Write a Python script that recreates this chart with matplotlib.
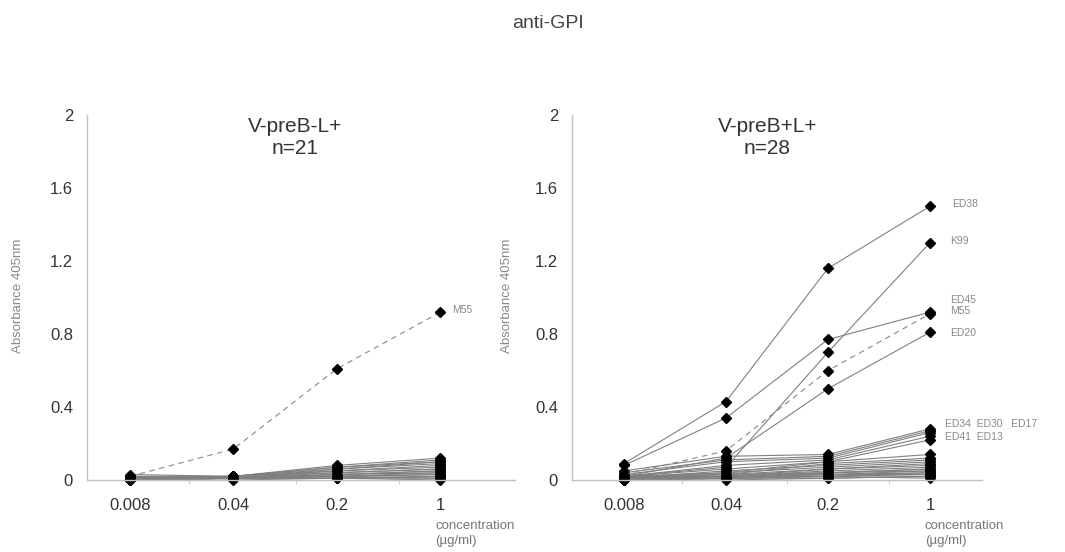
import numpy as np
import matplotlib
matplotlib.use("Agg")
import matplotlib.pyplot as plt

plt.rcParams['font.family'] = ['Liberation Sans', 'DejaVu Sans']

conc = ["0.008", "0.04", "0.2", "1"]
yticks = [0, 0.4, 0.8, 1.2, 1.6, 2]

# left panel: V-preB-L+  (n=21)
left_m55 = [0.02, 0.17, 0.61, 0.92]
left_low = [
    [0.01, 0.02, 0.08, 0.12],
    [0.01, 0.02, 0.07, 0.11],
    [0.02, 0.02, 0.06, 0.10],
    [0.01, 0.01, 0.06, 0.09],
    [0.01, 0.02, 0.05, 0.08],
    [0.00, 0.01, 0.05, 0.07],
    [0.01, 0.01, 0.04, 0.06],
    [0.01, 0.02, 0.04, 0.06],
    [0.00, 0.01, 0.03, 0.05],
    [0.01, 0.01, 0.03, 0.05],
    [0.01, 0.01, 0.02, 0.04],
    [0.00, 0.01, 0.02, 0.03],
    [0.01, 0.02, 0.02, 0.03],
    [0.00, 0.01, 0.01, 0.02],
    [0.01, 0.01, 0.01, 0.02],
    [0.00, 0.00, 0.01, 0.01],
    [0.01, 0.01, 0.02, 0.01],
    [0.00, 0.01, 0.01, 0.00],
    [0.02, 0.01, 0.03, 0.04],
    [0.03, 0.02, 0.07, 0.10],
]

# right panel: V-preB+L+  (n=28)
right_named = {
    "ED38": [0.09, 0.43, 1.16, 1.50],
    "K99": [0.02, 0.07, 0.70, 1.30],
    "ED45": [0.08, 0.34, 0.77, 0.92],
    "ED20": [0.02, 0.12, 0.50, 0.81],
    "ED34": [0.05, 0.13, 0.14, 0.28],
    "ED30": [0.04, 0.11, 0.13, 0.27],
    "ED17": [0.03, 0.10, 0.12, 0.26],
    "ED41": [0.02, 0.08, 0.11, 0.24],
    "ED13": [0.02, 0.06, 0.10, 0.22],
}
right_m55 = [0.03, 0.16, 0.60, 0.91]
right_low = [
    [0.01, 0.04, 0.10, 0.14],
    [0.02, 0.03, 0.09, 0.12],
    [0.01, 0.05, 0.08, 0.11],
    [0.02, 0.04, 0.07, 0.10],
    [0.01, 0.03, 0.06, 0.09],
    [0.00, 0.02, 0.06, 0.08],
    [0.01, 0.02, 0.05, 0.07],
    [0.01, 0.03, 0.04, 0.06],
    [0.00, 0.01, 0.04, 0.05],
    [0.01, 0.02, 0.03, 0.05],
    [0.00, 0.01, 0.03, 0.04],
    [0.01, 0.01, 0.02, 0.04],
    [0.00, 0.01, 0.02, 0.03],
    [0.01, 0.02, 0.03, 0.03],
    [0.00, 0.00, 0.01, 0.02],
    [0.01, 0.01, 0.01, 0.02],
    [0.00, 0.01, 0.02, 0.01],
    [0.02, 0.02, 0.04, 0.06],
]

W, H = 1065, 552
fig = plt.figure(figsize=(W / 100, H / 100), dpi=100)

line_kw = dict(color="#808080", lw=0.8, marker="D", ms=5, mfc="black",
               mec="black", clip_on=False)
dash_kw = dict(line_kw, ls=(0, (5, 4)), color="#888888")


def setup(ax, xlim):
    ax.set_xlim(*xlim)
    ax.set_ylim(0, 2)
    for s in ["top", "right"]:
        ax.spines[s].set_visible(False)
    for s in ["left", "bottom"]:
        ax.spines[s].set_color("#c0c0c0")
        ax.spines[s].set_linewidth(1.0)
    ax.set_yticks(yticks)
    ax.set_yticklabels([f"{v:g}" for v in yticks])
    ax.set_xticks(range(len(conc)))
    ax.set_xticklabels(conc)
    ax.set_xticks([0.57, 1.6, 2.6], minor=True)
    ax.tick_params(axis="y", length=0, pad=10, labelsize=12, labelcolor="#333333")
    ax.tick_params(axis="x", which="major", length=0, pad=13, labelsize=12,
                   labelcolor="#333333")
    ax.tick_params(axis="x", which="minor", length=3, color="#c0c0c0", direction="out")
    ax.annotate("concentration\n(\u00b5g/ml)", xy=(3, 0), xycoords="data",
                xytext=(-5, -40), textcoords="offset pixels", ha="left", va="top",
                fontsize=9.5, color="#777777", linespacing=1.3, annotation_clip=False)


x = np.arange(len(conc))

# left panel
axL = fig.add_axes([87 / W, 72 / H, 428 / W, 365 / H])
setup(axL, (-0.415, 3.72))
for row in left_low:
    axL.plot(x, row, **line_kw)
axL.plot(x, left_m55, **dash_kw)
axL.annotate("M55", xy=(3, left_m55[-1]), xytext=(12, 2), textcoords="offset pixels",
             fontsize=7.5, color="#888888", va="center")
axL.text(0.486, 0.995, "V-preB-L+\nn=21", transform=axL.transAxes, ha="center",
         va="top", fontsize=15, color="#333333", linespacing=1.2)

# right panel
axR = fig.add_axes([572 / W, 72 / H, 410 / W, 365 / H])
setup(axR, (-0.51, 3.51))
for row in right_low:
    axR.plot(x, row, **line_kw)
for name, row in right_named.items():
    axR.plot(x, row, **line_kw)
axR.plot(x, right_m55, **dash_kw)
axR.text(0.476, 0.995, "V-preB+L+\nn=28", transform=axR.transAxes, ha="center",
         va="top", fontsize=15, color="#333333", linespacing=1.2)

lab_kw = dict(textcoords="offset pixels", fontsize=7.5, color="#888888", va="center",
              annotation_clip=False)
axR.annotate("ED38", xy=(3, right_named["ED38"][-1]), xytext=(22, 2), **lab_kw)
axR.annotate("K99", xy=(3, right_named["K99"][-1]), xytext=(20, 2), **lab_kw)
axR.annotate("ED45", xy=(3, right_m55[-1]), xytext=(20, 14), **lab_kw)
axR.annotate("M55", xy=(3, right_m55[-1]), xytext=(20, 3), **lab_kw)
axR.annotate("ED20", xy=(3, right_named["ED20"][-1]), xytext=(20, -1), **lab_kw)
axR.annotate("ED34  ED30   ED17", xy=(3, right_named["ED34"][-1]), xytext=(15, 5), **lab_kw)
axR.annotate("ED41  ED13", xy=(3, right_named["ED13"][-1]), xytext=(15, 3), **lab_kw)

# y labels and overall title
for xp in (18, 507):
    fig.text(xp / W, 1 - 296 / H, "Absorbance 405nm", rotation=90, ha="center",
             va="center", fontsize=9.5, color="#888888")
fig.text(548 / W, 1 - 23 / H, "anti-GPI", ha="center", va="center", fontsize=14,
         color="#444444")

fig.savefig("out.png", dpi=100)
